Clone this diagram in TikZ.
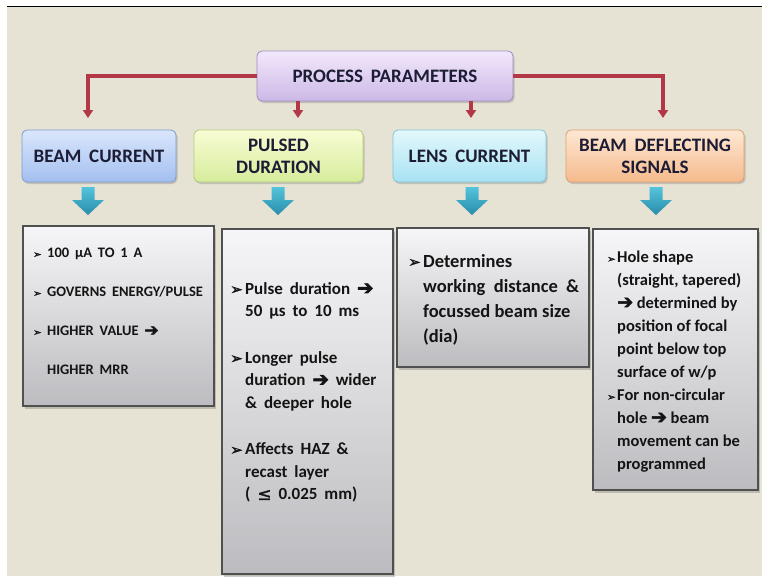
\documentclass[tikz,border=0pt]{standalone}
\usepackage{fontspec}
\usepackage{graphicx}
\setmainfont{Carlito}
\newfontfamily\widef[WordSpace=1.8]{Carlito}
\newfontfamily\symf[FakeBold=1.5]{DejaVu Sans}
\newfontfamily\symh[FakeBold=3]{DejaVu Sans}
\usetikzlibrary{shadows,arrows.meta,calc}
\definecolor{bgc}{RGB}{230,226,212}
\definecolor{redc}{RGB}{178,56,72}
\definecolor{ppA}{RGB}{242,232,252}
\definecolor{ppB}{RGB}{204,184,230}
\definecolor{ppD}{RGB}{160,140,190}
\definecolor{bcA}{RGB}{218,230,252}
\definecolor{bcB}{RGB}{163,191,240}
\definecolor{bcD}{RGB}{125,155,208}
\definecolor{pdA}{RGB}{248,252,212}
\definecolor{pdB}{RGB}{214,236,156}
\definecolor{pdD}{RGB}{180,205,120}
\definecolor{lnA}{RGB}{226,248,252}
\definecolor{lnB}{RGB}{168,226,242}
\definecolor{lnD}{RGB}{130,196,216}
\definecolor{bdA}{RGB}{253,232,212}
\definecolor{bdB}{RGB}{246,186,140}
\definecolor{bdD}{RGB}{220,160,112}
\definecolor{gA}{RGB}{246,246,248}
\definecolor{gB}{RGB}{188,188,192}
\definecolor{gD}{RGB}{80,80,80}
\definecolor{tA}{RGB}{84,196,220}
\definecolor{tB}{RGB}{40,140,170}
\definecolor{navy}{RGB}{28,28,52}
\newcommand\bul[2]{\makebox[#1][l]{{\symf\mdseries\fontsize{#2}{#2}\selectfont ➢}}}
\newcommand\arr{{\symh\mdseries\scalebox{1.15}{➔}}}
\newcommand\tealarrow[1]{\shade[top color=tA, bottom color=tB] ($(#1)+(-6.5,0)$) -- ++(0,13) -- ++(-9.5,0) -- ++(16,15) -- ++(16,-15) -- ++(-9.5,0) -- ++(0,-13) -- cycle;}
\begin{document}
\begin{tikzpicture}[x=1pt,y=-1pt,
  lvl/.style={draw=#1D, line width=0.8pt, rounded corners=5pt, top color=#1A, bottom color=#1B,
    drop shadow={shadow xshift=1.5pt, shadow yshift=-2pt, opacity=0.35},
    outer sep=0pt, inner sep=0pt, minimum height=52pt, align=center, text=navy,
    font=\widef\bfseries\fontsize{19}{22}\selectfont},
  gbox/.style={draw=gD, line width=1.1pt, top color=gA, bottom color=gB,
    drop shadow={shadow xshift=2pt, shadow yshift=-2.5pt, opacity=0.4},
    outer sep=0pt, inner sep=0pt},
  txt/.style={inner sep=0pt, align=left, text=black!92, anchor=west},
  redline/.style={draw=redc, line width=3.2pt, -{Triangle[width=10pt,length=8pt]}},
]
\useasboundingbox (0,0) rectangle (762,576);
\fill[white] (0,0) rectangle (762,576);
\fill[bgc] (7,7) rectangle (762,576);
\draw[black, line width=1.6pt] (7,6.5) -- (762,6.5);

% top
\node[lvl=pp, minimum width=256pt, minimum height=50pt] (pp) at (385,76) {PROCESS PARAMETERS};
% level 2
\node[lvl=bc, minimum width=154pt] (bc) at (99,156) {BEAM CURRENT};
\node[lvl=pd, minimum width=169pt] (pd) at (278.5,156) {PULSED\\DURATION};
\node[lvl=ln, minimum width=153pt] (ln) at (469.5,156) {LENS CURRENT};
\node[lvl=bd, minimum width=178pt] (bd) at (655,156) {BEAM DEFLECTING\\SIGNALS};

% red connectors
\coordinate (r1) at ([xshift=-11pt,yshift=12pt]bc.north);
\coordinate (r2) at ([xshift=19.5pt,yshift=12pt]pd.north);
\coordinate (r3) at ([xshift=1.5pt,yshift=12pt]ln.north);
\coordinate (r4) at ([xshift=8pt,yshift=12pt]bd.north);
\draw[redline] (pp.west) -| (r1);
\draw[redline] (pp.east) -| (r4);
\draw[redline] (pp.south -| r2) -- (r2);
\draw[redline] (pp.south -| r3) -- (r3);

% level 3 boxes
\node[gbox, minimum width=191pt, minimum height=180pt] (b1) at (118.5,316) {};
\node[gbox, minimum width=171pt, minimum height=345pt] (b2) at (307.5,401.5) {};
\node[gbox, minimum width=192pt, minimum height=139pt] (b3) at (493,297.5) {};
\node[gbox, minimum width=165pt, minimum height=261pt] (b4) at (675.5,359.5) {};

% teal arrows
\coordinate (ta1) at ([xshift=-11pt,yshift=-5pt]bc.south);
\coordinate (ta2) at ([xshift=-0.5pt,yshift=-5pt]pd.south);
\coordinate (ta3) at ([xshift=2.5pt,yshift=-5pt]ln.south);
\coordinate (ta4) at ([xshift=1pt,yshift=-5pt]bd.south);
\tealarrow{ta1}
\tealarrow{ta2}
\tealarrow{ta3}
\tealarrow{ta4}

% texts
\node[txt, font=\widef\bfseries\fontsize{14.5}{39}\selectfont] (t1) at ([xshift=10pt,yshift=4.5pt]b1.west)
 {\bul{14pt}{10}100 µA TO 1 A\\
  \bul{14pt}{10}GOVERNS ENERGY/PULSE\\
  \bul{14pt}{10}HIGHER VALUE \arr\\
  \hspace*{14pt}HIGHER MRR};
\node[txt, font=\widef\bfseries\fontsize{17}{22.5}\selectfont] (t2) at ([xshift=8pt,yshift=9pt]b2.west)
 {\bul{15pt}{15}Pulse duration \arr\\
  \hspace*{15pt}50 µs to 10 ms\\[24pt]
  \bul{15pt}{15}Longer pulse\\
  \hspace*{15pt}duration \arr{} wider\\
  \hspace*{15pt}\& deeper hole\\[24pt]
  \bul{15pt}{15}Affects HAZ \&\\
  \hspace*{15pt}recast layer\\
  \hspace*{15pt}( {\symf\mdseries ≤} 0.025 mm)};
\node[txt, font=\bfseries\fontsize{18.5}{25}\selectfont] (t3) at ([xshift=11pt,yshift=-2pt]b3.west)
 {\bul{15pt}{15}Determines\\
  \hspace*{15pt}working\ \ distance\ \ \&\\
  \hspace*{15pt}focussed beam size\\
  \hspace*{15pt}(dia)};
\node[txt, font=\bfseries\fontsize{16.5}{23}\selectfont] (t4) at ([xshift=14pt,yshift=-2pt]b4.west)
 {\bul{10pt}{10}Hole shape\\
  \hspace*{10pt}(straight, tapered)\\
  \hspace*{10pt}\arr{} determined by\\
  \hspace*{10pt}position of focal\\
  \hspace*{10pt}point below top\\
  \hspace*{10pt}surface of w/p\\
  \bul{10pt}{10}For non-circular\\
  \hspace*{10pt}hole \arr{} beam\\
  \hspace*{10pt}movement can be\\
  \hspace*{10pt}programmed};
\end{tikzpicture}
\end{document}
